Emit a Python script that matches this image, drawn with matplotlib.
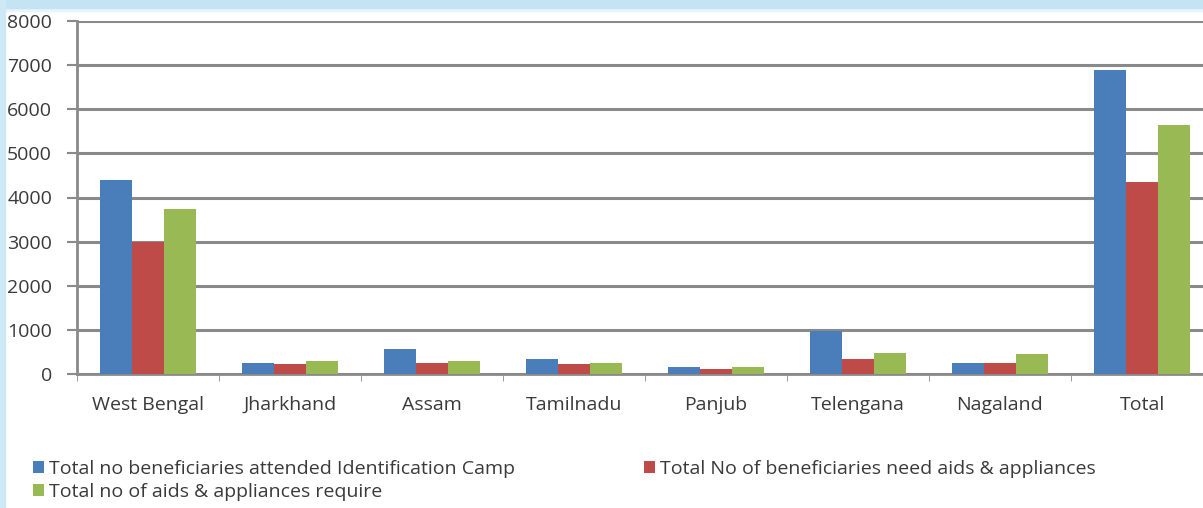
import matplotlib.pyplot as plt
import matplotlib.patches as mpatches
import numpy as np

states = ['West Bengal', 'Jharkhand', 'Assam', 'Tamilnadu', 'Panjub', 'Telengana', 'Nagaland', 'Total']
attended = [4400, 250, 560, 350, 150, 970, 260, 6890]
need_aids = [3000, 220, 260, 230, 110, 350, 260, 4350]
aids_require = [3750, 300, 300, 250, 150, 480, 460, 5650]

labels = ['Total no beneficiaries attended Identification Camp',
          'Total No of beneficiaries need aids & appliances',
          'Total no of aids & appliances require']
colors = ['#4a7ebb', '#be4b48', '#98b954']
txt = '#3a3a3a'
fs = 14

plt.rcParams['font.family'] = ['Open Sans', 'DejaVu Sans']

fig = plt.figure(figsize=(12.03, 5.08), dpi=100)
fig.patch.set_facecolor('white')

# light blue frame strips of the screenshot
fig.add_artist(mpatches.Rectangle((0, 1 - 11 / 508), 1, 11 / 508, transform=fig.transFigure,
                                  color='#e6f4fb', zorder=0))
fig.add_artist(mpatches.Rectangle((0, 1 - 8 / 508), 1, 8 / 508, transform=fig.transFigure,
                                  color='#c4e4f4', zorder=0))
fig.add_artist(mpatches.Rectangle((0, 0), 5 / 1203, 1, transform=fig.transFigure,
                                  color='#cfe8f5', zorder=0))

ax = fig.add_axes([77 / 1203, 134 / 508, 1136 / 1203, 353 / 508])
x = np.arange(len(states))
w = 0.225
series = [attended, need_aids, aids_require]
handles = []
for i, (vals, c) in enumerate(zip(series, colors)):
    b = ax.bar(x + (i - 1) * w, vals, w, color=c, zorder=3)
    handles.append(b)

ax.set_xlim(-0.5, len(states) - 0.5)
ax.set_ylim(0, 8000)
ax.set_yticks(range(0, 8001, 1000))
ax.yaxis.grid(True, color='#8a8a8a', linewidth=2.2, zorder=0)
for s in ['top', 'right']:
    ax.spines[s].set_visible(False)
for s in ['left', 'bottom']:
    ax.spines[s].set_color('#8a8a8a')
    ax.spines[s].set_linewidth(2)

ax.set_xticks(x)
ax.set_xticklabels(states, fontsize=fs, color=txt)
ax.set_xticks(np.arange(-0.5, len(states), 1), minor=True)
ax.tick_params(axis='x', which='major', length=0, pad=16)
ax.tick_params(axis='x', which='minor', length=5, color='#8a8a8a')
ax.tick_params(axis='y', length=7, width=1.5, color='#8a8a8a', labelsize=fs, labelcolor=txt, pad=11)

leg_kw = dict(loc='upper left', frameon=False, fontsize=fs, handlelength=0.55, handleheight=0.55,
              handletextpad=0.25, labelspacing=0.25, labelcolor=txt, borderaxespad=0,
              borderpad=0)
fig.legend([handles[0], handles[2]], [labels[0], labels[2]],
           bbox_to_anchor=(33 / 1203, 1 - 460 / 508), **leg_kw)
fig.legend([handles[1]], [labels[1]],
           bbox_to_anchor=(644 / 1203, 1 - 460 / 508), **leg_kw)

fig.savefig('out.png', dpi=100)
